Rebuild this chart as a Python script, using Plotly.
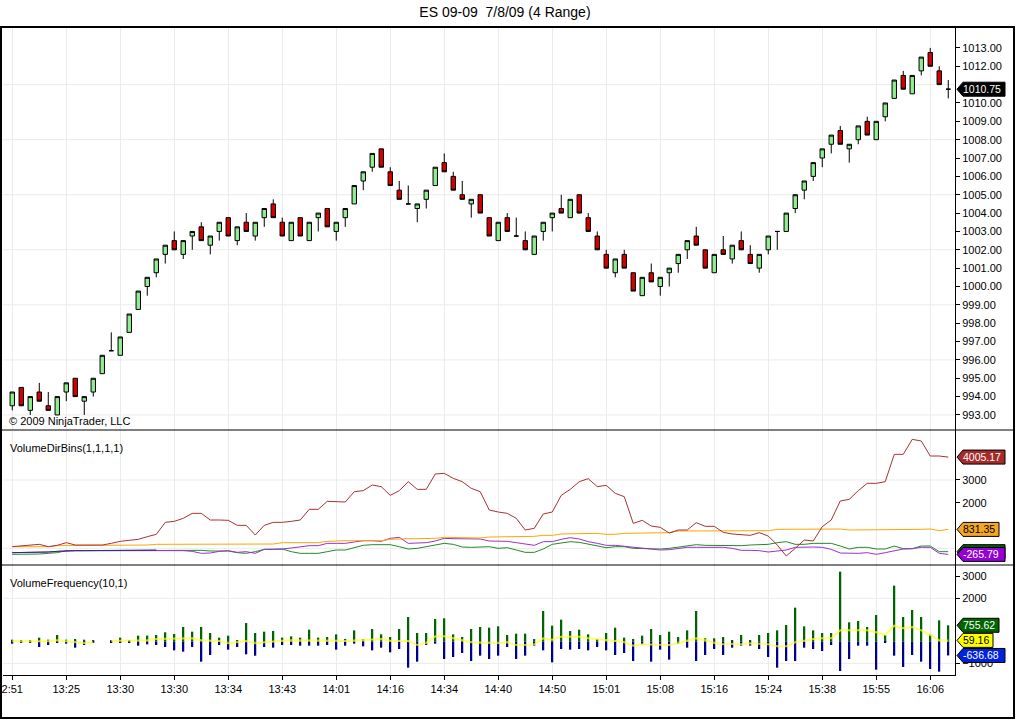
import plotly.graph_objects as go

# ES 09-09 7/8/09, 4 range bars
opens = [993.5, 994.5, 993.25, 994.25, 993.5, 993.0, 994.25, 995.0, 993.75, 994.25,
         995.25, 996.5, 996.25, 997.5, 998.75, 1000.0, 1000.75, 1001.75, 1002.5, 1001.75,
         1002.75, 1003.25, 1002.25, 1003.0, 1003.75, 1002.5, 1003.5, 1002.75, 1003.75, 1004.5,
         1003.5, 1002.5, 1003.75, 1002.5, 1003.75, 1004.25, 1003.0, 1003.75, 1004.5, 1005.75,
         1006.5, 1007.5, 1006.25, 1005.25, 1004.5, 1004.25, 1004.75, 1005.5, 1006.75, 1006.0,
         1005.0, 1004.5, 1005.0, 1003.75, 1002.5, 1003.75, 1002.75, 1002.5, 1001.75, 1003.0,
         1003.75, 1004.25, 1003.75, 1005.0, 1003.75, 1002.75, 1001.75, 1000.75, 1001.75, 1000.75,
         999.5, 1000.75, 1000.0, 1000.75, 1001.25, 1002.0, 1002.75, 1002.0, 1000.75, 1002.0,
         1001.5, 1002.5, 1001.75, 1001.0, 1002.0, 1003.0, 1003.0, 1004.25, 1005.25, 1006.0,
         1007.0, 1007.75, 1008.5, 1007.5, 1008.0, 1009.0, 1008.0, 1009.25, 1010.25, 1011.5,
         1010.5, 1011.75, 1012.75, 1011.75, 1010.75]
highs = [994.25, 994.5, 994.0, 994.75, 994.25, 994.0, 994.75, 995.0, 994.0, 995.0,
         996.25, 997.5, 997.25, 998.5, 999.75, 1000.5, 1001.5, 1002.25, 1003.0, 1002.5,
         1003.0, 1003.5, 1002.75, 1003.5, 1003.75, 1003.25, 1004.0, 1003.5, 1004.25, 1004.75,
         1003.75, 1003.5, 1003.75, 1003.5, 1004.0, 1004.25, 1003.5, 1004.25, 1005.5, 1006.25,
         1007.25, 1007.5, 1006.5, 1005.75, 1005.5, 1004.5, 1005.25, 1006.5, 1007.25, 1006.25,
         1005.75, 1004.75, 1005.0, 1003.75, 1003.5, 1004.0, 1003.75, 1003.0, 1002.75, 1003.5,
         1004.0, 1005.0, 1004.75, 1005.0, 1004.0, 1003.0, 1002.0, 1001.5, 1002.0, 1000.75,
         1000.5, 1001.25, 1000.5, 1001.0, 1001.75, 1002.5, 1003.25, 1002.0, 1001.75, 1002.75,
         1002.25, 1003.0, 1002.25, 1001.75, 1002.75, 1003.0, 1004.0, 1005.0, 1005.75, 1006.75,
         1007.5, 1008.25, 1008.75, 1007.75, 1008.75, 1009.25, 1009.0, 1010.0, 1011.25, 1011.75,
         1011.5, 1012.5, 1013.0, 1012.0, 1011.25]
lows = [993.25, 993.5, 993.0, 993.75, 993.25, 993.0, 993.75, 994.0, 993.0, 994.0,
        995.25, 996.5, 996.25, 997.5, 998.75, 999.5, 1000.5, 1001.25, 1002.0, 1001.5,
        1002.0, 1002.5, 1001.75, 1002.5, 1002.75, 1002.25, 1003.0, 1002.5, 1003.25, 1003.75,
        1002.75, 1002.5, 1002.75, 1002.5, 1003.0, 1003.25, 1002.5, 1003.25, 1004.5, 1005.25,
        1006.25, 1006.5, 1005.5, 1004.75, 1004.5, 1003.5, 1004.25, 1005.5, 1006.25, 1005.25,
        1004.75, 1003.75, 1004.0, 1002.75, 1002.5, 1003.0, 1002.75, 1002.0, 1001.75, 1002.5,
        1003.0, 1004.0, 1003.75, 1004.0, 1003.0, 1002.0, 1001.0, 1000.5, 1001.0, 999.75,
        999.5, 1000.25, 999.5, 1000.0, 1000.75, 1001.5, 1002.25, 1001.0, 1000.75, 1001.75,
        1001.25, 1002.0, 1001.25, 1000.75, 1001.75, 1002.0, 1003.0, 1004.0, 1004.75, 1005.75,
        1006.5, 1007.25, 1007.75, 1006.75, 1007.75, 1008.25, 1008.0, 1009.0, 1010.25, 1010.75,
        1010.5, 1011.5, 1012.0, 1011.0, 1010.25]
closes = [994.25, 993.5, 994.0, 993.75, 993.25, 994.0, 994.75, 994.0, 994.0, 995.0,
          996.25, 996.5, 997.25, 998.5, 999.75, 1000.5, 1001.5, 1002.25, 1002.0, 1002.5,
          1003.0, 1002.5, 1002.75, 1003.5, 1002.75, 1003.25, 1003.0, 1003.5, 1004.25, 1003.75,
          1002.75, 1003.5, 1002.75, 1003.5, 1004.0, 1003.25, 1003.5, 1004.25, 1005.5, 1006.25,
          1007.25, 1006.5, 1005.5, 1004.75, 1004.5, 1004.5, 1005.25, 1006.5, 1006.25, 1005.25,
          1004.75, 1004.75, 1004.0, 1002.75, 1003.5, 1003.0, 1002.75, 1002.0, 1002.75, 1003.5,
          1004.0, 1004.0, 1004.75, 1004.0, 1003.0, 1002.0, 1001.0, 1001.5, 1001.0, 999.75,
          1000.5, 1000.25, 1000.5, 1001.0, 1001.75, 1002.5, 1002.25, 1001.0, 1001.75, 1001.75,
          1002.25, 1002.0, 1001.25, 1001.75, 1002.75, 1003.0, 1004.0, 1005.0, 1005.75, 1006.75,
          1007.5, 1008.25, 1007.75, 1007.75, 1008.75, 1008.25, 1009.0, 1010.0, 1011.25, 1010.75,
          1011.5, 1012.5, 1012.0, 1011.0, 1010.75]

# x axis labels, one every 6 bars
time_labels = ['2:51', '13:25', '13:30', '13:30', '13:34', '13:43', '14:01', '14:16', '14:34',
               '14:40', '14:50', '15:01', '15:08', '15:16', '15:24', '15:38', '15:55', '16:06']

# VolumeDirBins(1,1,1,1)
dir_red = [73, 102, 132, 176, 73, 132, 249, 146, 146, 146,
           146, 219, 307, 351, 395, 512, 614, 1141, 1185, 1317,
           1536, 1536, 1244, 1244, 1229, 1009, 1009, 585, 1009, 1141,
           1141, 1185, 1244, 1712, 1712, 2063, 2034, 2034, 2487, 2531,
           2780, 2707, 2326, 2531, 2926, 2590, 2590, 3262, 3292, 3072,
           2926, 2633, 2487, 1682, 1595, 1536, 1317, 805, 878, 1507,
           1595, 2326, 2590, 2926, 3058, 2707, 2765, 2414, 2268, 1097,
           1229, 980, 922, 673, 805, 805, 1127, 966, 966, 702,
           629, 600, 571, 688, 541, 146, -336, 0, 366, 322,
           951, 1244, 2077, 2151, 2531, 2853, 2853, 2926, 4126, 4126,
           4784, 4711, 4053, 4053, 4005.17]
dir_orange = [73, 73, 73, 73, 73, 117, 117, 146, 146, 146,
              146, 146, 146, 146, 146, 146, 176, 176, 176, 176,
              176, 176, 176, 176, 176, 190, 190, 190, 190, 190,
              249, 249, 249, 249, 249, 307, 336, 336, 336, 336,
              366, 336, 395, 424, 424, 424, 424, 439, 483, 483,
              454, 454, 454, 497, 497, 497, 527, 527, 527, 571,
              571, 629, 629, 658, 658, 658, 614, 614, 658, 658,
              658, 658, 688, 688, 761, 761, 761, 775, 775, 775,
              775, 775, 775, 775, 775, 834, 834, 834, 834, 834,
              849, 849, 849, 805, 805, 805, 805, 805, 805, 805,
              834, 834, 849, 775, 831.35]
dir_purple = [-190, -190, -176, -176, -161, -132, -102, -102, -102, -102,
              -102, -102, -102, -102, -88, -88, -73, -73, -88, -102,
              -132, -219, -205, -132, -102, -176, -146, -219, -44, -44,
              -29, 15, 73, 117, 117, 219, 219, 219, 278, 336,
              336, 307, 439, 483, 219, 249, 249, 322, 439, 424,
              410, 410, 410, 322, 307, 307, 249, 190, 132, 293,
              293, 395, 468, 410, 293, 219, 132, 132, 88, 73,
              29, -29, -73, -59, 0, 44, 44, 44, 44, 44,
              0, -88, -88, -102, -161, -132, -73, 44, 59, 59,
              44, -44, -205, -219, -219, -190, -263, -190, -117, -29,
              -15, 44, 44, -219, -265.79]
dir_green = [-263, -263, -249, -249, -219, -190, -102, -102, -102, -102,
             -102, -102, -102, -102, -102, -102, -102, -88, -88, -88,
             -73, -88, -117, -117, -117, -190, -219, -146, -44, -44,
             -29, -146, -219, -219, -219, -146, -73, -73, 29, 132,
             161, 161, 161, 73, -29, 0, 73, 146, 219, 176,
             59, 44, 73, 73, 0, 29, -73, -176, -176, -29,
             176, 249, 293, 263, 190, 102, 29, 73, 73, 0,
             -15, -15, -29, 0, 44, 88, 161, 132, 132, 102,
             102, 117, 146, 146, 176, 249, 293, 176, 176, 219,
             219, 219, 102, -29, 44, 44, -29, -29, 102, -15,
             -15, 102, 102, -146, -146]
# blue is only visible at the start, hidden under the others afterwards
dir_blue = [-190, -190, -176, -176, -161, -132, -102, -102, -102, -102,
            -102, -102, -102, -102, -88, -88, -73]

# VolumeFrequency(10,1)
vf_up = [92, 31, 31, 185, 92, 308, 92, 123, 92, 31,
         None, 31, 185, 31, 277, 277, 308, 431, 354, 677,
         461, 677, 400, 185, 277, 31, 861, 400, 461, 492,
         185, 246, 185, 554, 185, 215, 338, 123, 523, 123,
         584, 338, 215, 584, 1138, 400, 400, 1046, 1077, 338,
         215, 584, 677, 646, 707, 308, 369, 369, 123, 1415,
         738, 1015, 492, 554, 338, 123, 400, 646, 185, 123,
         277, 584, 308, 461, 215, 523, 1415, 154, 154, 215,
         62, 308, 62, 308, 400, 523, 769, 1569, 707, 523,
         400, 400, 3230, 892, 954, 677, 1230, 308, 2584, 1138,
         1461, 1138, 338, 984, 755.62]
vf_down = [-92, -46, -46, -246, -154, -31, -92, -277, -154, -62,
           None, -31, -31, -62, -185, -123, -154, -246, -400, -461,
           -246, -923, -615, -154, -369, -246, -584, -646, -246, -277,
           -154, -154, -185, -185, -185, -154, -369, -185, -92, -215,
           -400, -277, -492, -338, -1200, -923, -154, -92, -800, -707,
           -523, -892, -646, -800, -646, -246, -800, -646, -185, -400,
           -954, -338, -369, -338, -400, -246, -400, -615, -523, -892,
           -123, -923, -369, -830, -92, -277, -892, -615, -338, -615,
           -277, -185, -185, -338, -707, -1200, -892, -892, -277, -338,
           -431, -154, -1354, -800, -185, -185, -1292, -62, -646, -1169,
           -615, -923, -1261, -1384, -636.68]
vf_avg = [15, 15, 15, 31, 15, 62, 0, -31, -62, -31,
          None, 31, 46, 46, 77, 62, 123, 123, 154, 154,
          154, 62, 31, 31, -77, -31, 31, -77, -31, 31,
          46, 62, 62, 77, 62, 46, 46, 31, 62, 62,
          123, 123, 46, 31, 31, -154, -62, 246, 246, 154,
          62, -31, -46, -62, -62, -31, -154, -154, -123, 154,
          92, 231, 231, 231, 154, 123, 62, 31, -31, -185,
          -123, -123, -154, -154, -62, 31, 154, 62, -62, -123,
          -92, -123, -77, -92, -123, -215, -215, -31, 62, 123,
          154, 154, 523, 523, 492, 523, 431, 308, 738, 615,
          677, 523, 308, 62, 59.16]

# axis labels that are not hidden behind the value tags
price_ticks = [993, 994, 995, 996, 997, 998, 999, 1000, 1001, 1002,
               1003, 1004, 1005, 1006, 1007, 1008, 1009, 1010, 1012, 1013]
dir_ticks = [2000, 3000]
vf_ticks = [-1000, 2000, 3000]

price_grid = [993, 996, 999, 1002, 1005, 1008, 1011]
dir_grid = [0, 3000]
vf_grid = [-1000, 2000]

idx = list(range(len(closes)))
tick_idx = idx[::6]

FONT = 'Liberation Sans'
GRID = '#EBEBEB'

# panel heights in px: 403 / 135 / 110, plot area 952 x 648
dom_top = [245 / 648, 1]
dom_mid = [110 / 648, 245 / 648]
dom_bot = [0, 110 / 648]

fig = go.Figure()

fig.add_trace(go.Candlestick(
    x=idx, open=opens, high=highs, low=lows, close=closes,
    increasing=dict(fillcolor='#90EE90', line=dict(color='black', width=1)),
    decreasing=dict(fillcolor='#D40000', line=dict(color='black', width=1)),
    whiskerwidth=0, xaxis='x', yaxis='y', hoverinfo='skip'))

for vals, col in [(dir_green, '#228B22'), (dir_purple, '#9932CC'),
                  (dir_orange, '#FFA500'), (dir_red, '#A83232')]:
    fig.add_trace(go.Scatter(x=idx, y=vals, mode='lines', line=dict(color=col, width=1),
                             xaxis='x2', yaxis='y2', hoverinfo='skip'))
fig.add_trace(go.Scatter(x=idx[:len(dir_blue)], y=dir_blue, mode='lines',
                         line=dict(color='#2A2A80', width=1), xaxis='x2', yaxis='y2',
                         hoverinfo='skip'))

fig.add_trace(go.Bar(x=idx, y=vf_up, width=0.22, marker=dict(color='#006400', line=dict(width=0)),
                     xaxis='x3', yaxis='y3', hoverinfo='skip'))
fig.add_trace(go.Bar(x=idx, y=vf_down, width=0.22, marker=dict(color='#00008B', line=dict(width=0)),
                     xaxis='x3', yaxis='y3', hoverinfo='skip'))
fig.add_trace(go.Scatter(x=idx, y=vf_avg, mode='lines', connectgaps=False,
                         line=dict(color='rgba(255,255,40,0.7)', width=2),
                         xaxis='x3', yaxis='y3', hoverinfo='skip'))

xcommon = dict(range=[-1.03, 104.75], tickvals=tick_idx, showgrid=True, gridcolor=GRID,
               gridwidth=1, zeroline=False, fixedrange=True)
ycommon = dict(side='right', showline=True, linecolor='black', linewidth=1, ticks='outside',
               ticklen=4, tickcolor='black', showgrid=False, zeroline=False,
               tickfont=dict(family=FONT, size=11, color='black'), fixedrange=True)

fig.update_layout(
    width=1016, height=719,
    margin=dict(l=3, r=61, t=27, b=44),
    paper_bgcolor='white', plot_bgcolor='white',
    showlegend=False, hovermode=False, barmode='overlay',
    font=dict(family=FONT, size=11, color='black'),
    title=dict(text='ES 09-09\u00a0 7/8/09 (4 Range)', x=0.497, xref='container',
               y=1 - 12 / 719, yref='container', yanchor='middle',
               font=dict(family=FONT, size=14, color='black')),
    xaxis=dict(**xcommon, anchor='y', showticklabels=False, ticks='', rangeslider=dict(visible=False)),
    xaxis2=dict(**xcommon, anchor='y2', showticklabels=False, ticks=''),
    xaxis3=dict(**xcommon, anchor='y3', ticktext=time_labels, ticks='outside', ticklen=4,
                tickcolor='black', showline=True, linecolor='black', linewidth=1,
                tickfont=dict(family=FONT, size=11, color='black')),
    yaxis=dict(**ycommon, domain=dom_top, anchor='x', range=[992.18, 1014.14],
               tickvals=price_ticks, tickformat='.2f'),
    yaxis2=dict(**ycommon, domain=dom_mid, anchor='x2', range=[-731, 5194],
                tickvals=dir_ticks),
    yaxis3=dict(**ycommon, domain=dom_bot, anchor='x3', range=[-1538, 3537],
                tickvals=vf_ticks),
)

# horizontal grid (every 3 points / 3000)
for yref, vals in [('y', price_grid), ('y2', dir_grid), ('y3', vf_grid)]:
    for v in vals:
        fig.add_shape(type='line', xref='paper', yref=yref, x0=0, x1=1, y0=v, y1=v,
                      line=dict(color=GRID, width=1), layer='below')

# outer frame and panel separators
fig.add_shape(type='rect', xref='paper', yref='paper', x0=-2 / 952, x1=1 + 59 / 952,
              y0=-43 / 648, y1=1, line=dict(color='black', width=2), layer='above')
for yb in [dom_mid[1], dom_bot[1]]:
    fig.add_shape(type='line', xref='paper', yref='paper', x0=-2 / 952, x1=1 + 59 / 952,
                  y0=yb, y1=yb, line=dict(color='black', width=1), layer='above')


def tag(yref, val, fill, fg, text=True):
    txt = f'{val:.2f}'
    w = 6 * len(txt) + 8
    fig.add_shape(type='path', xref='paper', yref=yref, xsizemode='pixel', ysizemode='pixel',
                  xanchor=1, yanchor=val,
                  path=f'M 2 0 L 8 -7 L {w} -7 L {w} 7 L 8 7 Z',
                  fillcolor=fill, line=dict(color='black', width=1), layer='above')
    if text:
        fig.add_annotation(xref='paper', yref=yref, x=1, y=val, xanchor='left', yanchor='middle',
                           xshift=7, text=txt, showarrow=False, borderpad=0,
                           font=dict(family=FONT, size=10.5, color=fg))


tag('y', closes[-1], 'black', 'white')
tag('y2', dir_red[-1], '#A52A2A', 'white')
tag('y2', dir_orange[-1], '#F5A623', 'black')
tag('y2', dir_green[-1], '#006400', 'white', text=False)
tag('y2', dir_purple[-1], '#9400D3', 'white')
tag('y3', vf_up[-1], '#006400', 'white')
tag('y3', vf_avg[-1], '#FFFF00', 'black')
tag('y3', vf_down[-1], '#0022DD', 'white')

# panel captions
fig.add_annotation(xref='paper', yref='y domain', x=4 / 952, y=0, xanchor='left', yanchor='bottom',
                   yshift=1, text='© 2009 NinjaTrader, LLC', showarrow=False)
fig.add_annotation(xref='paper', yref='y2 domain', x=5 / 952, y=1, xanchor='left', yanchor='top',
                   yshift=-10, text='VolumeDirBins(1,1,1,1)', showarrow=False)
fig.add_annotation(xref='paper', yref='y3 domain', x=5 / 952, y=1, xanchor='left', yanchor='top',
                   yshift=-10, text='VolumeFrequency(10,1)', showarrow=False)

# the page's default body margin would push the fixed-size chart off the window
fig.write_html("out.html", config={'displayModeBar': False},
               post_script="document.body.style.margin = '0';")
